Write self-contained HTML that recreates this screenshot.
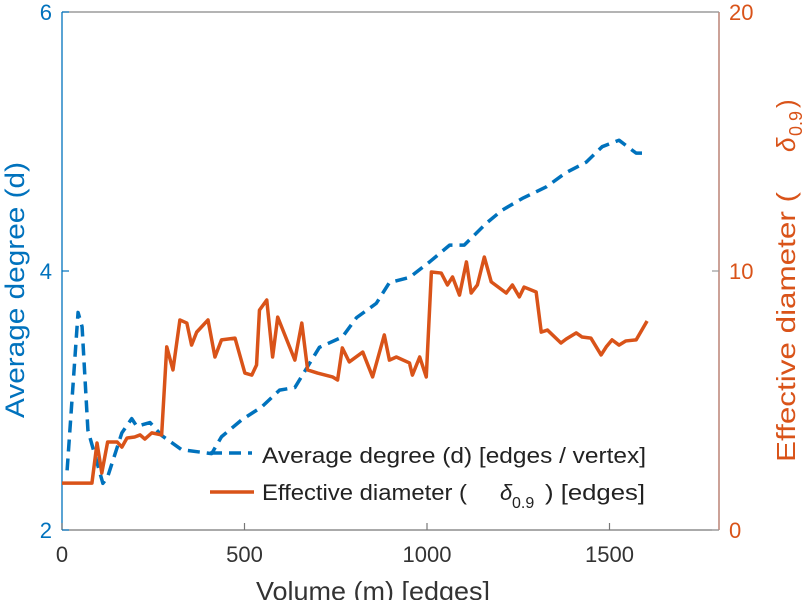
<!DOCTYPE html>
<html><head><meta charset="utf-8"><style>
html,body{margin:0;padding:0;background:#fff;width:812px;height:600px;overflow:hidden}
svg{font-family:"Liberation Sans",sans-serif}
</style></head><body>
<svg id="chart" width="812" height="600" viewBox="0 0 812 600">
<g id="axes"></g><g id="marks"></g><g id="legend"></g>
</svg>
<script>
const blueX=[14,44,55,71,112,125,164,191,205,241,273,328,410,437,492,547,596,638,705,768,807,861,897,952,1007,1062,1102,1163,1206,1261,1327,1381,1436,1480,1526,1573,1589];
const blueY=[2.46,3.68,3.57,2.77,2.36,2.41,2.75,2.86,2.80,2.83,2.73,2.62,2.59,2.72,2.85,2.95,3.08,3.10,3.41,3.49,3.64,3.75,3.91,3.95,4.07,4.20,4.20,4.37,4.47,4.56,4.65,4.76,4.84,4.96,5.01,4.91,4.91];
const orX=[0,82,96,109,125,151,164,178,199,214,227,246,273,287,304,323,342,355,369,400,419,437,474,501,520,533,541,561,577,591,638,657,673,700,741,755,768,787,824,851,883,897,916,952,960,980,998,1012,1039,1056,1070,1089,1108,1121,1138,1157,1176,1217,1234,1253,1266,1299,1313,1330,1367,1381,1409,1425,1449,1477,1491,1507,1526,1545,1573,1603];
const orY=[1.81,1.81,3.36,2.20,3.40,3.40,3.20,3.55,3.59,3.67,3.51,3.75,3.67,7.07,6.18,8.11,7.99,7.14,7.64,8.11,6.68,7.34,7.41,6.06,5.98,6.37,8.49,8.88,6.68,8.22,6.56,7.99,6.18,6.06,5.91,5.79,7.03,6.49,6.87,5.91,7.53,6.56,6.68,6.45,5.98,6.68,5.91,9.96,9.92,9.46,9.77,9.07,10.35,9.15,9.46,10.54,9.58,9.15,9.46,9.00,9.38,9.19,7.64,7.72,7.22,7.37,7.61,7.45,7.41,6.76,7.07,7.34,7.14,7.30,7.34,8.07];
const xTicks=[0,500,1000,1500];
const yLTicks=[2,4,6];
const yRTicks=[0,10,20];
const L=62,R=719,T=12,B=530;
const xS=v=>L+(v/1800)*(R-L);
const yL=v=>B-(v-2)/4*(B-T);
const yR=v=>B-v/20*(B-T);
const NS='http://www.w3.org/2000/svg';
const BLUE='#0072BD',OR='#D95319';
function mk(tag,attrs,parent,text){const e=document.createElementNS(NS,tag);for(const k in attrs)e.setAttribute(k,attrs[k]);if(text!==undefined)e.textContent=text;document.getElementById(parent).appendChild(e);return e;}
let e;
e=mk('line',{x1:L,y1:T,x2:R,y2:T,stroke:'#888','stroke-width':1.3},'axes');


e=mk('line',{x1:L,y1:B,x2:R,y2:B,stroke:'#777','stroke-width':1.3},'axes');


e=mk('line',{x1:L,y1:T,x2:L,y2:B,stroke:BLUE,'stroke-width':1.3},'axes');


e=mk('line',{x1:R,y1:T,x2:R,y2:B,stroke:'#b07060','stroke-width':1.3},'axes');


xTicks.forEach(t=>{
 e=mk('line',{x1:xS(t),y1:B,x2:xS(t),y2:B-7,stroke:'#777','stroke-width':1.2},'axes');
 
 
 e=mk('text',{x:xS(t),y:B+32,'text-anchor':'middle','font-size':22,fill:'#333'},'axes',String(t));
 
 
});
yLTicks.forEach(t=>{
 e=mk('line',{x1:L,y1:yL(t),x2:L+7,y2:yL(t),stroke:BLUE,'stroke-width':1.2},'axes');
 
 
 e=mk('text',{x:L-10,y:yL(t)+8,'text-anchor':'end','font-size':22,fill:BLUE},'axes',String(t));
 
 
});
yRTicks.forEach(t=>{
 e=mk('line',{x1:R,y1:yR(t),x2:R-7,y2:yR(t),stroke:'#999','stroke-width':1.2},'axes');
 
 
 e=mk('text',{x:R+10,y:yR(t)+8,'text-anchor':'start','font-size':22,fill:OR},'axes',String(t));
 
 
});
e=mk('text',{x:256,y:600,'font-size':26,fill:'#333',textLength:234,lengthAdjust:'spacingAndGlyphs'},'axes','Volume (m) [edges]');


e=mk('text',{x:0,y:0,'font-size':27,fill:BLUE,textLength:256,lengthAdjust:'spacingAndGlyphs',transform:'translate(24,418) rotate(-90)'},'axes','Average degree (d)');


e=mk('g',{transform:'translate(795,462) rotate(-90)',fill:OR},'axes');


e.innerHTML='<text x="0" y="0" font-size="26" textLength="270" lengthAdjust="spacingAndGlyphs">Effective diameter (</text><text x="310" y="0" font-size="26" font-style="italic">δ</text><text x="326" y="7" font-size="18">0.9</text><text x="354" y="0" font-size="26">)</text>';
e=mk('polyline',{points:blueX.map((x,i)=>xS(x)+','+yL(blueY[i])).join(' '),fill:'none',stroke:BLUE,'stroke-width':3.5,'stroke-dasharray':'12 7','stroke-linejoin':'round'},'marks');


e=mk('polyline',{points:orX.map((x,i)=>xS(x)+','+yR(orY[i])).join(' '),fill:'none',stroke:OR,'stroke-width':3.5,'stroke-linejoin':'round'},'marks');


e=mk('line',{x1:210,y1:453,x2:252,y2:453,stroke:BLUE,'stroke-width':3.5,'stroke-dasharray':'12 7'},'legend');


e=mk('text',{x:262,y:463,'font-size':22,fill:'#222',textLength:384,lengthAdjust:'spacingAndGlyphs'},'legend','Average degree (d) [edges / vertex]');


e=mk('line',{x1:210,y1:492,x2:254,y2:492,stroke:OR,'stroke-width':3.5},'legend');


e=mk('g',{fill:'#222'},'legend');


e.innerHTML='<text x="262" y="500" font-size="22" textLength="205" lengthAdjust="spacingAndGlyphs">Effective diameter (</text><text x="500" y="500" font-size="22" font-style="italic">δ</text><text x="512" y="508" font-size="16">0.9</text><text x="545" y="500" font-size="22" textLength="100" lengthAdjust="spacingAndGlyphs">) [edges]</text>';
</script>
</body></html>
